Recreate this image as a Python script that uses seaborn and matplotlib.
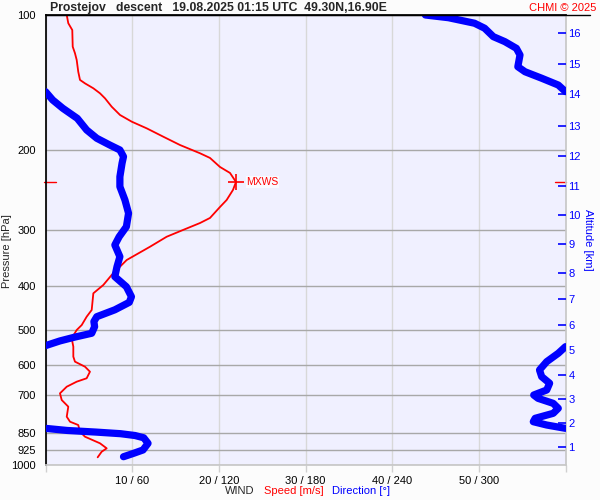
import pandas as pd
import seaborn as sns
import matplotlib.pyplot as plt
from matplotlib.lines import Line2D
from matplotlib.ticker import NullLocator

# wind speed profile: pressure [hPa], speed [m/s]
speed_p = [100, 104.3, 108.0, 117.6, 121.6, 125.9, 133.7, 139.4, 141.9, 145.5,
           149.3, 153.2, 159.9, 166.8, 172.6, 178.6, 186.4, 194.5, 202.9, 207.8,
           217.6, 224.4, 235.0, 244.8, 257.7, 267.1, 282.5, 289.9, 300.4, 311.0,
           327.3, 350.3, 378.1, 398.1, 415.4, 452.4, 468.2, 488.6, 501.2, 522.9,
           545.8, 574.4, 589.3, 604.8, 620.4, 641.6, 652.9, 669.9, 693.0, 717.1,
           742.0, 781.0, 801.3, 815.0, 843.5, 865.3, 895.0, 918.2, 934.3, 961.4]
speed_v = [2.45, 2.63, 3.09, 3.14, 3.4, 3.6, 3.78, 3.98, 4.56, 5.52,
           6.29, 6.87, 7.64, 8.6, 9.95, 11.68, 13.59, 15.52, 17.83, 18.98,
           20.13, 21.29, 21.98, 21.63, 20.9, 20.13, 18.98, 17.83, 15.87, 13.98,
           12.06, 9.37, 7.64, 6.67, 5.52, 5.33, 4.75, 4.18, 3.6, 3.02,
           3.21, 3.21, 3.4, 4.56, 5.13, 4.75, 3.6, 2.45, 1.67, 1.87,
           2.63, 2.45, 2.83, 3.78, 3.98, 4.56, 6.29, 7.06, 6.48, 6.02]

# wind direction profile, split where it crosses north
dir_top_p = [100, 101.4, 104.3, 107.0, 111.7, 114.6, 118.6, 122.7, 130.3, 133.7,
             138.2, 143.1, 148.0]
dir_top_v = [263, 279, 297, 304, 310, 318, 326, 328.5, 327, 332,
             343.5, 355, 360]
dir_mid_p = [148.0, 154.5, 161.2, 169.7, 180.1, 187.9, 194.5, 199.5, 206.4, 213.5,
             228.8, 240.7, 257.7, 275.8, 295.4, 311.0, 324.4, 344.4, 362.5, 381.5,
             401.7, 422.7, 435.0, 452.0, 468.2, 480.0, 492.8, 509.6, 520.0, 530.0,
             543.0]
dir_mid_v = [0, 5, 12, 22, 28.5, 35.5, 44.5, 51.5, 54, 53,
             51.5, 51.5, 55, 57.5, 56, 51, 48, 51.5, 49.5, 48,
             56, 59.5, 58, 48, 35.5, 33.5, 34, 32, 20, 10,
             0]
dir_low_p = [545.8, 564.6, 589.3, 614.9, 636.3, 658.2, 681.3, 699.0, 711.0, 729.5,
             748.2, 767.6, 787.5, 801.3, 815.0, 829.0]
dir_low_v = [360, 355, 347, 342, 343.5, 349, 347, 338, 341, 351.5,
             355, 351.5, 339, 337.7, 347, 360]
dir_sfc_p = [829.0, 838.0, 845.0, 852.0, 860.0, 870.0, 895.0, 926.0, 942.0, 958.5]
dir_sfc_v = [0, 15, 35, 52, 62, 68, 71, 67.5, 61, 54]

pressure_ticks = [100, 200, 300, 400, 500, 600, 700, 850, 925, 1000]
speed_ticks = [0, 10, 20, 30, 40, 50, 60]
speed_labels = ['', '10 / 60', '20 / 120', '30 / 180', '40 / 240', '50 / 300', '']
alt_km = list(range(1, 17))
alt_p = [912, 806.7, 713.5, 631, 555.2, 488.7, 427.6, 374.5, 322.8, 278.3,
         239.9, 205.7, 176.4, 149.8, 128.5, 109.6]
mxws_p = 235.0
mxws_v = 21.98

sns.set_theme(style='white')
plt.rcParams['font.family'] = ['Liberation Sans', 'DejaVu Sans']

fig = plt.figure(figsize=(6, 5), dpi=100, facecolor='#fcfcfc')
ax = fig.add_axes([45.5 / 600, 35 / 500, 520 / 600, 450 / 500])
ax.set_facecolor('#f0f0ff')
ax.set_axisbelow(True)

# speed (red) on main axes
sns.lineplot(x=speed_v, y=speed_p, sort=False, estimator=None, color='red',
             linewidth=1.3, ax=ax)

ax.set_yscale('log')
ax.set_ylim(1000, 100)
ax.set_xlim(0, 60)
ax.set_yticks(pressure_ticks)
ax.set_yticklabels([str(p) for p in pressure_ticks])
ax.yaxis.set_minor_locator(NullLocator())
ax.set_xticks(speed_ticks)
ax.set_xticklabels(speed_labels)
ax.tick_params(axis='y', length=0, pad=7, labelsize=8, colors='black')
ax.tick_params(axis='x', length=5, width=1, color='#d0d0d0', pad=3,
               labelsize=8, labelcolor='black', direction='out')
ax.grid(axis='y', color='#a8a8a8', linewidth=1)
ax.grid(axis='x', color='#d8d8d8', linewidth=1)
ax.set_xlabel('')
ax.set_ylabel('Pressure [hPa]', fontsize=8)
ax.yaxis.set_label_coords(-0.065, 0.475)
for s in ['right', 'bottom']:
    ax.spines[s].set_color('#c8c8c8')
ax.spines['left'].set_color('black')
ax.spines['top'].set_color('black')

# max wind marker
ax.plot([mxws_v], [mxws_p], marker='+', markersize=11, mew=1.2, color='red')
ax.text(mxws_v + 1.2, mxws_p, 'MXWS', color='red', fontsize=7.5, va='center',
        ha='left', bbox=dict(facecolor='white', edgecolor='none', pad=0.5, alpha=0.7))
trans = ax.get_yaxis_transform()
ax.plot([-0.003, 0.021], [mxws_p, mxws_p], color='red', lw=1, transform=trans,
        clip_on=False)
ax.plot([0.98, 1.0], [mxws_p, mxws_p], color='red', lw=1, transform=trans,
        clip_on=False)

# direction (blue) on twin x axis 0-360
ax2 = ax.twiny()
df_dir = pd.concat([
    pd.DataFrame({'pressure': dir_top_p, 'direction': dir_top_v, 'seg': 0}),
    pd.DataFrame({'pressure': dir_mid_p, 'direction': dir_mid_v, 'seg': 1}),
    pd.DataFrame({'pressure': dir_low_p, 'direction': dir_low_v, 'seg': 2}),
    pd.DataFrame({'pressure': dir_sfc_p, 'direction': dir_sfc_v, 'seg': 3}),
])
sns.lineplot(data=df_dir, x='direction', y='pressure', units='seg',
             estimator=None, sort=False, color='blue', linewidth=5.2,
             solid_capstyle='round', legend=False, ax=ax2)
ax2.set_xlim(0, 360)
ax2.set_xticks([])
ax2.set_xlabel('')
ax2.set_ylabel('')
for s in ax2.spines.values():
    s.set_visible(False)

# altitude axis on the right
ax3 = ax.twinx()
ax3.set_yscale('log')
ax3.set_ylim(1000, 100)
ax3.set_yticks(alt_p)
ax3.set_yticklabels([str(k) for k in alt_km])
ax3.yaxis.set_minor_locator(NullLocator())
ax3.tick_params(axis='y', direction='in', length=6, width=1.2, color='blue',
                labelcolor='blue', labelsize=8, pad=2)
ax3.set_ylabel('Altitude [km]', rotation=270, color='blue', fontsize=8)
ax3.yaxis.set_label_coords(1.052, 0.5)
for s in ax3.spines.values():
    s.set_visible(False)

# header and footer texts
fig.text(50 / 600, 1 - 8 / 500, 'Prostejov   descent   19.08.2025 01:15 UTC  49.30N,16.90E',
         fontsize=8.8, fontweight='bold', va='center', ha='left')
fig.text(596 / 600, 1 - 8 / 500, 'CHMI \u00a9 2025', color='red', fontsize=8,
         va='center', ha='right')
fig.add_artist(Line2D([45.5 / 600, 590 / 600], [485 / 500, 485 / 500],
                      transform=fig.transFigure, color='black', lw=1))
fig.text(225 / 600, 1 - 491 / 500, 'WIND', fontsize=8, va='center', ha='left')
fig.text(264 / 600, 1 - 491 / 500, 'Speed [m/s]', color='red', fontsize=8,
         va='center', ha='left')
fig.text(332 / 600, 1 - 491 / 500, 'Direction [\u00b0]', color='blue', fontsize=8,
         va='center', ha='left')

fig.savefig('out.png', dpi=100, facecolor=fig.get_facecolor())
